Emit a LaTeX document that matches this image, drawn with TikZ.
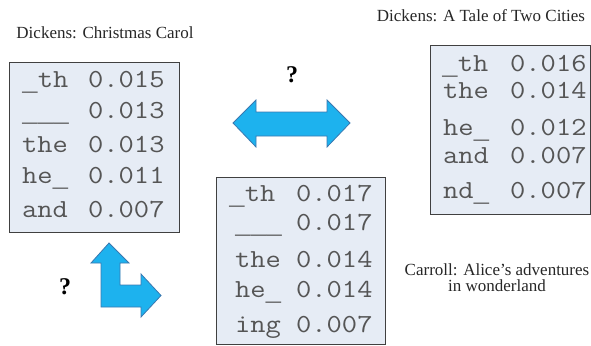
\documentclass[tikz,border=0pt]{standalone}
\usepackage{fontspec}
\setmainfont{Liberation Serif}
\newfontfamily\monofam[FakeStretch=1.14]{Latin Modern Mono}
\newfontfamily\ulfam{Liberation Mono}
\newcommand\usc{\raisebox{-3pt}{\ulfam\_}}
\begin{document}
\begin{tikzpicture}[x=1pt,y=-1pt,
  tbox/.style={draw=black!75, line width=0.8pt, fill=boxfill},
  mono/.style={anchor=base west, inner sep=0pt, text=monogray, font=\monofam\fontsize{26}{26}\selectfont},
  title/.style={anchor=base, inner sep=0pt, font=\fontsize{17}{19}\selectfont, text=black!85},
  qmark/.style={inner sep=0pt, font=\bfseries\fontsize{24}{24}\selectfont},
  bluearrow/.style={fill=arrowblue, draw=arrowedge, line width=0.8pt, line join=miter}]
\definecolor{boxfill}{HTML}{E6ECF5}
\definecolor{monogray}{HTML}{555555}
\definecolor{arrowblue}{HTML}{1DB2EE}
\definecolor{arrowedge}{HTML}{3A78B0}
\useasboundingbox (0,0) rectangle (591,345);

% boxes
\path[tbox] (9,62) rectangle (179,232);
\path[tbox] (216,177) rectangle (385,344);
\path[tbox] (430,45) rectangle (590,214);

% box 1 : Christmas Carol
\node[mono] (a1) at (22,87)  {\usc th};  \node[mono] (a1n) at (88,87)  {0.015};
\node[mono] (a2) at (22,118) {\usc\usc\usc}; \node[mono] (a2n) at (88,118) {0.013};
\node[mono] (a3) at (22,152) {the};   \node[mono] (a3n) at (88,152) {0.013};
\node[mono] (a4) at (22,183) {he\usc};  \node[mono] (a4n) at (88,183) {0.011};
\node[mono] (a5) at (22,217) {and};   \node[mono] (a5n) at (88,217) {0.007};

% box 2 : Alice
\node[mono] (b1) at (229,201) {\usc th};  \node[mono] (b1n) at (296,201) {0.017};
\node[mono] (b2) at (235,230) {\usc\usc\usc}; \node[mono] (b2n) at (296,230) {0.017};
\node[mono] (b3) at (235,267) {the};   \node[mono] (b3n) at (296,267) {0.014};
\node[mono] (b4) at (235,297) {he\usc};  \node[mono] (b4n) at (296,297) {0.014};
\node[mono] (b5) at (235,332) {ing};   \node[mono] (b5n) at (296,332) {0.007};

% box 3 : Tale of Two Cities
\node[mono] (c1) at (442,71)  {\usc th};  \node[mono] (c1n) at (510,71)  {0.016};
\node[mono] (c2) at (443,98)  {the};   \node[mono] (c2n) at (510,98)  {0.014};
\node[mono] (c3) at (443,135) {he\usc};  \node[mono] (c3n) at (510,135) {0.012};
\node[mono] (c4) at (443,163) {and};   \node[mono] (c4n) at (510,163) {0.007};
\node[mono] (c5) at (443,198) {nd\usc};  \node[mono] (c5n) at (510,198) {0.007};

% titles
\node[title] (t1) at (105,38) {Dickens: Christmas Carol};
\node[title] (t2) at (481,22) {Dickens: A Tale of Two Cities};
\node[title] (t3) at (497,275) {Carroll: Alice’s adventures};
\node[title] (t4) at (497,291) {in wonderland};

% question marks
\node[qmark] (q1) at (292,75) {?};
\node[qmark] (q2) at (65,287) {?};

% double arrow
\path[bluearrow] (233,123) -- (256,100) -- (256,112) -- (327,112) -- (327,100)
  -- (350,123) -- (327,147) -- (327,136) -- (256,136) -- (256,147) -- cycle;

% L-shaped arrow
\path[bluearrow] (109,243) -- (129,263) -- (120,263) -- (120,285) -- (141,285)
  -- (141,274) -- (161,295.5) -- (141,317) -- (141,307) -- (101,307)
  -- (101,263) -- (91,263) -- cycle;
\end{tikzpicture}
\end{document}
